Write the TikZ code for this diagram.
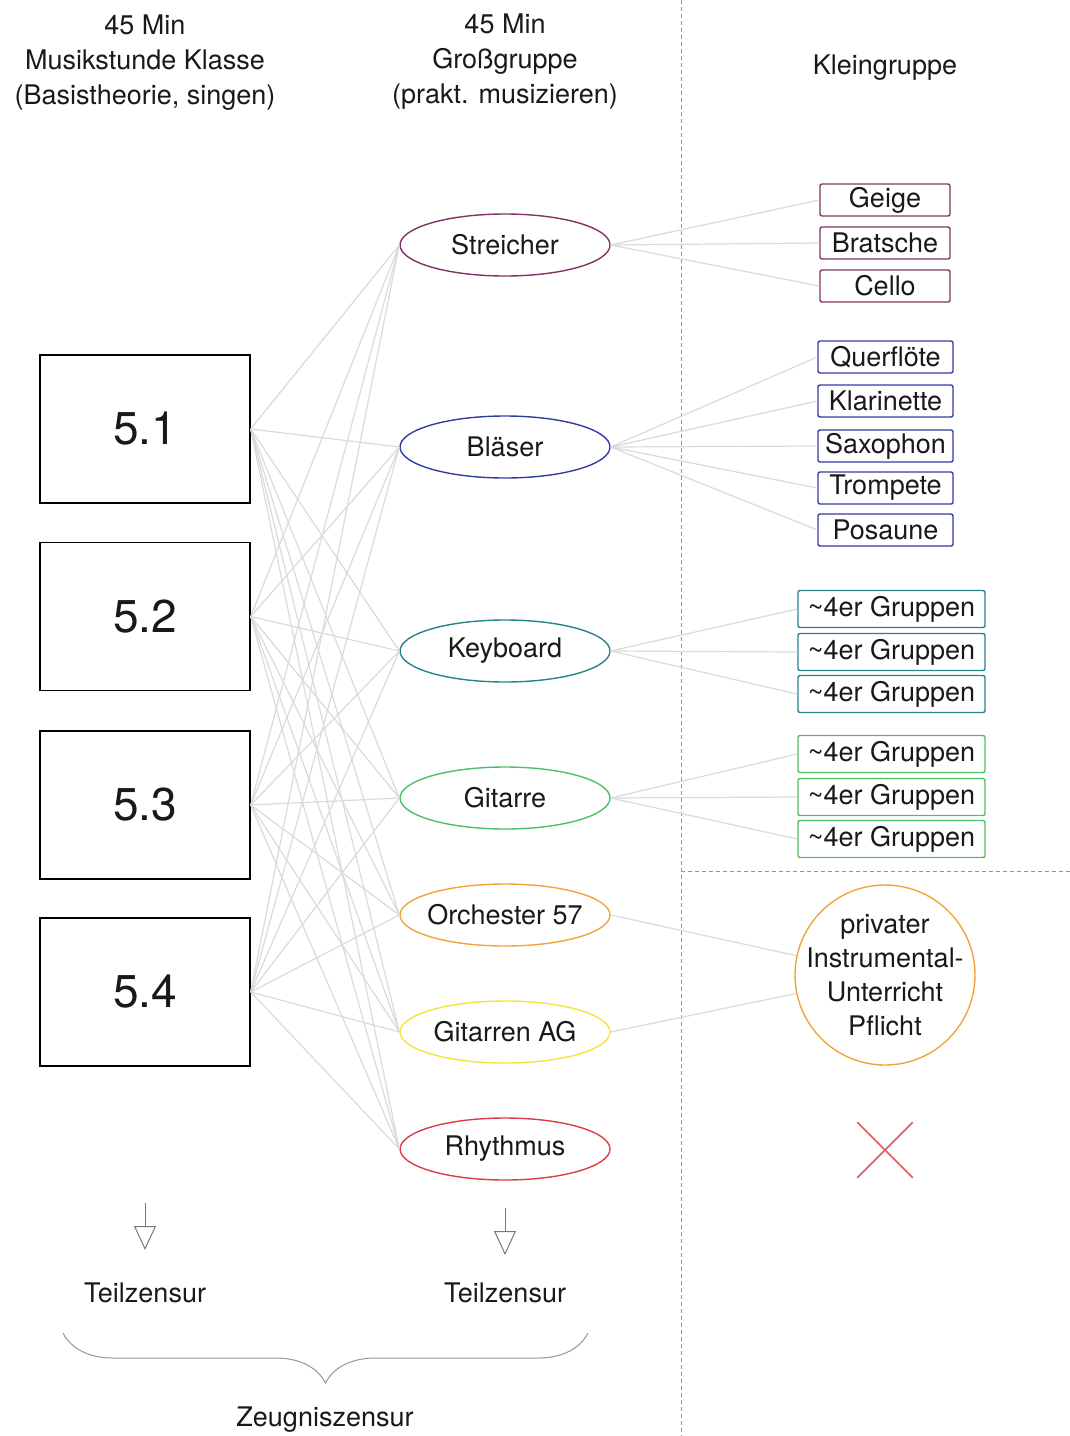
\documentclass[tikz,border=0pt]{standalone}
\usepackage{fontspec}
\setmainfont{TeX Gyre Heros}
\usetikzlibrary{positioning,shapes.geometric,shapes.misc,arrows.meta,decorations.pathreplacing}

\definecolor{strcol}{RGB}{130,50,100}
\definecolor{blacol}{RGB}{50,60,160}
\definecolor{keycol}{RGB}{40,130,140}
\definecolor{gitcol}{RGB}{80,190,100}
\definecolor{orccol}{RGB}{240,165,60}
\definecolor{agcol}{RGB}{245,228,60}
\definecolor{rhycol}{RGB}{220,60,70}
\definecolor{linkcol}{RGB}{218,218,218}
\definecolor{sepcol}{RGB}{150,150,150}

\begin{document}
\begin{tikzpicture}[x=1pt,y=-1pt,
    every node/.style={font=\fontsize{27}{35}\selectfont,text=black!90},
    klasse/.style={draw,line width=1.4pt,minimum width=210,minimum height=148,inner sep=0,font=\fontsize{46}{50}\selectfont},
    gruppe/.style={draw=#1,ellipse,line width=1.4pt,minimum width=210,minimum height=62,inner xsep=-20pt,inner ysep=0},
    klein/.style={draw=#1,line width=1.4pt,rounded corners=2pt,minimum width=130,minimum height=32,inner sep=0},
    link/.style={draw=linkcol,line width=1.2pt},
    sep/.style={draw=sepcol,line width=0.9pt,dash pattern=on 4pt off 3pt},
    zensur/.style={draw=sepcol!80!black,line width=1pt,-{Triangle[open,length=24pt,width=22pt]}}]
    \useasboundingbox (0,0) rectangle (1070,1436);

    % headers
    \node[align=center] (h1) at (145,63) {45 Min\\Musikstunde Klasse\\(Basistheorie, singen)};
    \node[align=center] (h2) at (505,62) {45 Min\\Großgruppe\\(prakt. musizieren)};
    \node (h3) at (885,68) {Kleingruppe};

    \draw[sep] (681,0) -- (681,1436);
    \draw[sep] (681,871) -- (1070,871);

    % classes
    \node[klasse] (k1) at (145,429) {5.1};
    \node[klasse] (k2) at (145,616.5) {5.2};
    \node[klasse] (k3) at (145,805) {5.3};
    \node[klasse] (k4) at (145,992) {5.4};

    % large groups
    \node[gruppe=strcol] (e1) at (505,245) {Streicher};
    \node[gruppe=blacol] (e2) at (505,447) {Bläser};
    \node[gruppe=keycol] (e3) at (505,651) {Keyboard};
    \node[gruppe=gitcol] (e4) at (505,798) {Gitarre};
    \node[gruppe=orccol] (e5) at (505,915) {Orchester 57};
    \node[gruppe=agcol] (e6) at (505,1032) {Gitarren AG};
    \node[gruppe=rhycol] (e7) at (505,1149) {Rhythmus};

    % small groups
    \node[klein=strcol] (s1) at (885,200) {Geige};
    \node[klein=strcol] (s2) at (885,243) {Bratsche};
    \node[klein=strcol] (s3) at (885,286) {Cello};

    \node[klein=blacol,minimum width=135] (b1) at (885.5,357) {Querflöte};
    \node[klein=blacol,minimum width=135] (b2) at (885.5,401) {Klarinette};
    \node[klein=blacol,minimum width=135] (b3) at (885.5,446) {Saxophon};
    \node[klein=blacol,minimum width=135] (b4) at (885.5,488) {Trompete};
    \node[klein=blacol,minimum width=135] (b5) at (885.5,530) {Posaune};

    \node[klein=keycol,minimum width=187,minimum height=37] (t1) at (891.5,609) {\char`\~4er Gruppen};
    \node[klein=keycol,minimum width=187,minimum height=37] (t2) at (891.5,652) {\char`\~4er Gruppen};
    \node[klein=keycol,minimum width=187,minimum height=37] (t3) at (891.5,694) {\char`\~4er Gruppen};

    \node[klein=gitcol,minimum width=187,minimum height=37] (u1) at (891.5,754) {\char`\~4er Gruppen};
    \node[klein=gitcol,minimum width=187,minimum height=37] (u2) at (891.5,797) {\char`\~4er Gruppen};
    \node[klein=gitcol,minimum width=187,minimum height=37] (u3) at (891.5,839) {\char`\~4er Gruppen};

    \node[draw=orccol,circle,line width=1.4pt,minimum size=180,inner sep=-20pt,align=center,font=\fontsize{27}{34}\selectfont] (p) at (885,975) {privater\\Instrumental-\\Unterricht\\Pflicht};
    \node[draw=rhycol!85,cross out,line width=1.6pt,minimum size=54,inner sep=0] (no) at (885,1150) {};

    % class -> large group
    \draw[link] (k1.east) -- (e1.west);
    \draw[link] (k1.east) -- (e2.west);
    \draw[link] (k1.east) -- (e3.west);
    \draw[link] (k1.east) -- (e4.west);
    \draw[link] (k1.east) -- (e5.west);
    \draw[link] (k1.east) -- (e6.west);
    \draw[link] (k1.east) -- (e7.west);

    \draw[link] (k2.east) -- (e1.west);
    \draw[link] (k2.east) -- (e2.west);
    \draw[link] (k2.east) -- (e3.west);
    \draw[link] (k2.east) -- (e4.west);
    \draw[link] (k2.east) -- (e5.west);
    \draw[link] (k2.east) -- (e6.west);
    \draw[link] (k2.east) -- (e7.west);

    \draw[link] (k3.east) -- (e1.west);
    \draw[link] (k3.east) -- (e2.west);
    \draw[link] (k3.east) -- (e3.west);
    \draw[link] (k3.east) -- (e4.west);
    \draw[link] (k3.east) -- (e5.west);
    \draw[link] (k3.east) -- (e6.west);
    \draw[link] (k3.east) -- (e7.west);

    \draw[link] (k4.east) -- (e1.west);
    \draw[link] (k4.east) -- (e2.west);
    \draw[link] (k4.east) -- (e3.west);
    \draw[link] (k4.east) -- (e4.west);
    \draw[link] (k4.east) -- (e5.west);
    \draw[link] (k4.east) -- (e6.west);
    \draw[link] (k4.east) -- (e7.west);

    % large group -> small group
    \draw[link] (e1.east) -- (s1.west);
    \draw[link] (e1.east) -- (s2.west);
    \draw[link] (e1.east) -- (s3.west);
    \draw[link] (e2.east) -- (b1.west);
    \draw[link] (e2.east) -- (b2.west);
    \draw[link] (e2.east) -- (b3.west);
    \draw[link] (e2.east) -- (b4.west);
    \draw[link] (e2.east) -- (b5.west);
    \draw[link] (e3.east) -- (t1.west);
    \draw[link] (e3.east) -- (t2.west);
    \draw[link] (e3.east) -- (t3.west);
    \draw[link] (e4.east) -- (u1.west);
    \draw[link] (e4.east) -- (u2.west);
    \draw[link] (e4.east) -- (u3.west);
    \draw[link] (e5.east) -- (p);
    \draw[link] (e6.east) -- (p);

    % grades
    \coordinate (a1) at (145,1203);
    \coordinate (a2) at (145,1250);
    \coordinate (a3) at (505,1208);
    \coordinate (a4) at (505,1255);
    \draw[zensur] (a1) -- (a2);
    \draw[zensur] (a3) -- (a4);
    \node (z1) at (145,1293) {Teilzensur};
    \node (z2) at (505,1293) {Teilzensur};

    \coordinate (bl) at (63,1333);
    \coordinate (br) at (588,1333);
    \draw[draw=sepcol,line width=1pt,decorate,decoration={brace,mirror,amplitude=50}] (bl) -- (br);
    \node (zz) at (325,1420) {Zeugniszensur};
\end{tikzpicture}
\end{document}
